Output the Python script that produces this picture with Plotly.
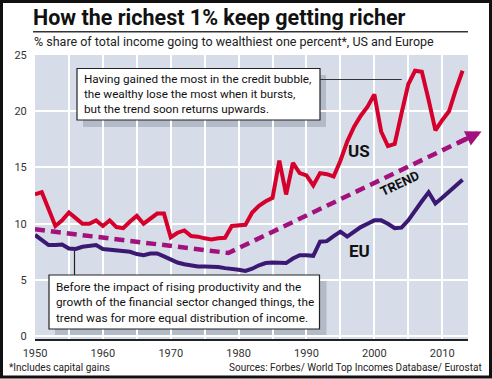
import plotly.graph_objects as go

# ---------------- data ----------------
years = list(range(1950, 2014))

us_share = [12.6, 12.8, 11.3, 9.8, 10.3, 11.0, 10.5, 10.0, 10.0, 10.3,
            9.8, 10.3, 9.7, 9.6, 10.2, 10.7, 10.0, 10.5, 10.9, 10.9,
            8.8, 9.2, 9.4, 8.9, 8.85, 8.7, 8.6, 8.7, 8.75, 9.8,
            9.85, 9.9, 11.0, 11.6, 12.0, 12.3, 15.6, 12.6, 15.4, 14.5,
            14.3, 13.4, 14.5, 14.4, 14.2, 15.6, 17.3, 18.6, 19.6, 20.4,
            21.5, 18.2, 16.9, 17.1, 19.8, 22.4, 23.6, 23.5, 21.0, 18.3,
            19.2, 20.0, 21.9, 23.6]

eu_share = [9.0, 8.5, 8.1, 8.1, 8.15, 7.8, 7.75, 7.95, 8.05, 8.1,
            7.75, 7.7, 7.6, 7.55, 7.5, 7.3, 7.2, 7.35, 7.35, 7.1,
            6.85, 6.55, 6.4, 6.3, 6.2, 6.2, 6.2, 6.15, 6.05, 6.0,
            5.9, 5.8, 6.0, 6.3, 6.5, 6.55, 6.5, 6.5, 6.9, 7.2,
            7.2, 7.15, 8.4, 8.45, 8.9, 9.3, 8.85, 9.3, 9.7, 10.0,
            10.3, 10.3, 10.0, 9.6, 9.65, 10.3, 11.2, 12.0, 12.8, 11.8,
            12.3, 12.85, 13.4, 13.9]

trend_years = [1950, 1978.5, 2015.8]
trend_vals = [9.5, 7.4, 18.2]

x_ticks = [1950, 1960, 1970, 1980, 1990, 2000, 2010]
y_ticks = [0, 5, 10, 15, 20, 25]

title = "How the richest 1% keep getting richer"
subtitle = "% share of total income going to wealthiest one percent*, US and Europe"
note_top = ("Having gained the most in the credit bubble,<br>"
            "the wealthy lose the most when it bursts,<br>"
            "but the trend soon returns upwards.")
note_bottom = ("Before the impact of rising productivity and the<br>"
               "growth of the financial sector changed things, the<br>"
               "trend was for more equal distribution of income.")
footnote = "*Includes capital gains"
source = "Sources: Forbes/ World Top Incomes Database/ Eurostat"

# ---------------- style ----------------
W, H = 492, 379
ML, MR, MT, MB = 35, 24, 55, 40
PW, PH = W - ML - MR, H - MT - MB

US_COL = "#d5002b"
EU_COL = "#3b1872"
TR_COL = "#a3117c"
BG = "#d6dde9"
SHADOW = "#b3bbc8"
FONT = "Roboto"


def px(xp):
    return (xp - ML) / PW


def py(yp):
    return (H - MB - yp) / PH


fig = go.Figure()

fig.add_trace(go.Scatter(
    x=trend_years, y=trend_vals, mode="lines",
    line=dict(color=TR_COL, width=4.5, dash="10px,6px"),
    hoverinfo="skip", showlegend=False))

fig.add_trace(go.Scatter(
    x=years, y=eu_share, mode="lines",
    line=dict(color=EU_COL, width=4), showlegend=False))

fig.add_trace(go.Scatter(
    x=years, y=us_share, mode="lines",
    line=dict(color=US_COL, width=4), showlegend=False))

shapes = []
# shadows (below grid)
for (x0, y0, x1, y1) in [(83, 75, 326, 127), (55, 281, 326.5, 335)]:
    shapes.append(dict(type="rect", xref="paper", yref="paper",
                       x0=px(x0), x1=px(x1), y0=py(y1), y1=py(y0),
                       fillcolor=SHADOW, line=dict(width=0), layer="below"))
# boxes
for (x0, y0, x1, y1) in [(77, 68.5, 320, 120), (49, 275, 319.5, 329)]:
    shapes.append(dict(type="rect", xref="paper", yref="paper",
                       x0=px(x0), x1=px(x1), y0=py(y1), y1=py(y0),
                       fillcolor="white", line=dict(color="#222", width=1.2),
                       layer="above"))
# leader lines
shapes.append(dict(type="line", xref="paper", yref="paper",
                   x0=px(320), x1=px(401.7), y0=py(79.5), y1=py(79.5),
                   line=dict(color="#333", width=1.2)))
shapes.append(dict(type="line", xref="paper", yref="paper",
                   x0=px(74.5), x1=px(74.5), y0=py(251), y1=py(275),
                   line=dict(color="#222", width=1.2)))
# title rule
shapes.append(dict(type="line", xref="paper", yref="paper",
                   x0=px(33), x1=px(468), y0=py(31.7), y1=py(31.7),
                   line=dict(color="#333", width=1.5)))
# outer frame
shapes.append(dict(type="rect", xref="paper", yref="paper",
                   x0=px(1.5), x1=px(490.5), y0=py(377), y1=py(1.5),
                   line=dict(color="#111", width=3), fillcolor="rgba(0,0,0,0)"))

# arrow head at the end of the trend line (direction from the previous vertex)
tip_x, tip_y = trend_years[-1], trend_vals[-1]
back = 0.1
tail_x = tip_x - back * (trend_years[-1] - trend_years[-2])
tail_y = tip_y - back * (trend_vals[-1] - trend_vals[-2])

annotations = [
    dict(text="", x=tip_x, y=tip_y, xref="x", yref="y",
         ax=tail_x, ay=tail_y, axref="x", ayref="y",
         showarrow=True, arrowhead=2, arrowsize=0.7, arrowwidth=4.5,
         arrowcolor=TR_COL, standoff=0),
    dict(text=subtitle, xref="paper", yref="paper", x=px(32), y=py(42),
         xanchor="left", yanchor="middle", showarrow=False,
         font=dict(family=FONT, size=12.5, color="#222")),
    dict(text=note_top, xref="paper", yref="paper", x=px(82), y=py(93.5),
         xanchor="left", yanchor="middle", align="left", showarrow=False,
         font=dict(family=FONT, size=11.7, color="#111")),
    dict(text=note_bottom, xref="paper", yref="paper", x=px(54), y=py(302),
         xanchor="left", yanchor="middle", align="left", showarrow=False,
         font=dict(family=FONT, size=11.8, color="#111")),
    dict(text="US", x=1997.8, y=16.5, xref="x", yref="y", showarrow=False,
         font=dict(family=FONT, size=17, color="#111", weight="bold")),
    dict(text="EU", x=1997.8, y=7.56, xref="x", yref="y", showarrow=False,
         font=dict(family=FONT, size=17, color="#111", weight="bold")),
    dict(text="TREND", x=2003.7, y=13.6, xref="x", yref="y", showarrow=False,
         textangle=-25.6,
         font=dict(family=FONT, size=13, color="#111", weight="bold")),
    dict(text=footnote, xref="paper", yref="paper", x=px(7), y=py(367),
         xanchor="left", yanchor="middle", showarrow=False,
         font=dict(family=FONT, size=10, color="#222")),
    dict(text=source, xref="paper", yref="paper", x=px(484), y=py(367),
         xanchor="right", yanchor="middle", showarrow=False,
         font=dict(family=FONT, size=10, color="#222")),
]

fig.update_layout(
    width=W, height=H,
    margin=dict(l=ML, r=MR, t=MT, b=MB, pad=0),
    paper_bgcolor="white", plot_bgcolor=BG,
    title=dict(text=title, x=33 / W, xref="container", xanchor="left",
               y=1 - 17 / H, yanchor="middle",
               font=dict(family=FONT, size=21.5, color="#111", weight="bold")),
    shapes=shapes, annotations=annotations,
    showlegend=False,
    xaxis=dict(range=[1950, 2013.8], tickvals=x_ticks,
               ticktext=[str(v) for v in x_ticks],
               showgrid=False, zeroline=False,
               showline=True, linecolor="#222", linewidth=1.5,
               ticks="outside", ticklen=3, tickcolor="rgba(0,0,0,0)",
               tickfont=dict(family=FONT, size=11, color="#333"),
               minor=dict(dtick=5, tick0=1950, showgrid=True,
                          gridcolor="white", gridwidth=2)),
    yaxis=dict(range=[-0.25, 25], tickvals=y_ticks,
               ticktext=[str(v) for v in y_ticks],
               showgrid=True, gridcolor="white", gridwidth=2,
               zeroline=False, showline=False,
               ticks="outside", ticklen=5, tickcolor="rgba(0,0,0,0)",
               tickfont=dict(family=FONT, size=11, color="#333")),
)

fig.write_html("out.html", config={"displayModeBar": False})

# remove the browser's default page margin so the figure sits at (0, 0)
with open("out.html", "r", encoding="utf-8") as f:
    page = f.read()
page = page.replace("<head>", "<head><style>html,body{margin:0;padding:0;overflow:hidden;}</style>", 1)
with open("out.html", "w", encoding="utf-8") as f:
    f.write(page)
